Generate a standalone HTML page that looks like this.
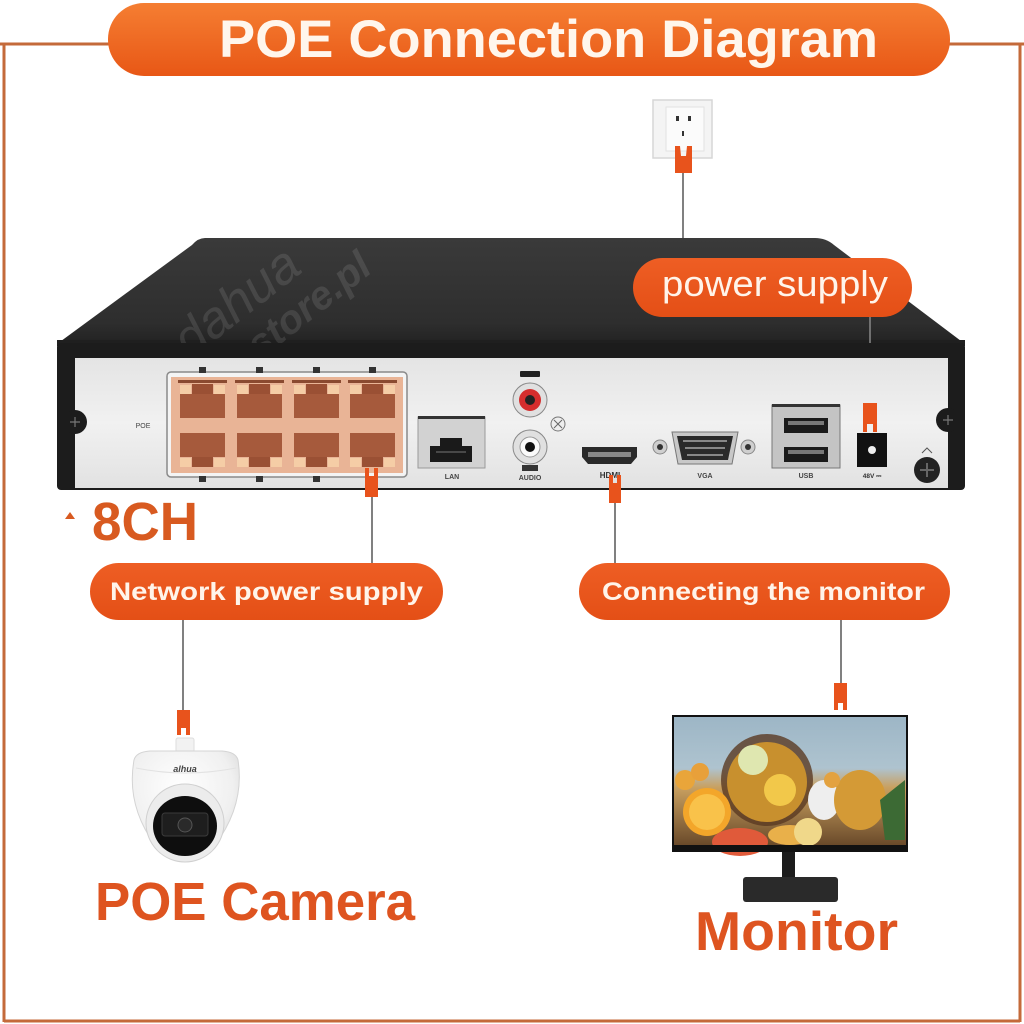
<!DOCTYPE html>
<html><head><meta charset="utf-8"><style>
html,body{margin:0;padding:0;background:#fff;width:1024px;height:1024px;overflow:hidden}
svg{display:block}
text{font-family:"Liberation Sans",sans-serif}
</style></head><body>
<svg width="1024" height="1024" viewBox="0 0 1024 1024" xmlns="http://www.w3.org/2000/svg">
<defs>
<linearGradient id="tg" x1="0" y1="0" x2="0" y2="1"><stop offset="0" stop-color="#f57e32"/><stop offset="1" stop-color="#e85716"/></linearGradient>
<linearGradient id="pg" x1="0" y1="0" x2="0" y2="1"><stop offset="0" stop-color="#ee5e24"/><stop offset="1" stop-color="#e44f16"/></linearGradient>
<linearGradient id="topg" x1="0" y1="0" x2="0" y2="1"><stop offset="0" stop-color="#3a3a3a"/><stop offset="0.8" stop-color="#2e2e2e"/><stop offset="1" stop-color="#222"/></linearGradient>
<linearGradient id="panelg" x1="0" y1="0" x2="0" y2="1"><stop offset="0" stop-color="#e4e4e4"/><stop offset="0.5" stop-color="#f1f1f1"/><stop offset="1" stop-color="#e2e2e2"/></linearGradient>
<linearGradient id="scr" x1="0" y1="0" x2="0" y2="1"><stop offset="0" stop-color="#9db6c6"/><stop offset="0.4" stop-color="#aec3cf"/><stop offset="0.55" stop-color="#c9a060"/><stop offset="1" stop-color="#6a4a2a"/></linearGradient>
<radialGradient id="dome" cx="0.45" cy="0.35" r="0.7"><stop offset="0" stop-color="#ffffff"/><stop offset="0.7" stop-color="#f0f0f0"/><stop offset="1" stop-color="#d8d8d8"/></radialGradient>
</defs>

<!-- frame lines -->
<g stroke="#c46a3a" stroke-width="3" fill="none">
<line x1="0" y1="44" x2="112" y2="44"/>
<line x1="946" y1="44" x2="1024" y2="44"/>
<line x1="4" y1="44" x2="4" y2="1022"/>
<line x1="1020" y1="44" x2="1020" y2="1022"/>
<line x1="4" y1="1021" x2="1020" y2="1021"/>
</g>

<!-- title -->
<rect x="108" y="3" width="842" height="73" rx="36" fill="url(#tg)"/>
<text x="219" y="57" font-size="53" font-weight="bold" fill="#fff6ec" textLength="659" lengthAdjust="spacingAndGlyphs">POE Connection Diagram</text>

<!-- outlet -->
<rect x="653" y="100" width="59" height="58" fill="#f4f4f4" stroke="#d6d6d6" stroke-width="1.5"/>
<rect x="666" y="107" width="38" height="44" fill="#fbfbfb" stroke="#e2e2e2"/>
<rect x="676" y="116" width="3" height="5" fill="#333"/>
<rect x="688" y="116" width="3" height="5" fill="#333"/>
<rect x="682" y="131" width="2" height="5" fill="#333"/>
<path d="M675 146 L680 146 L681 156 L686 156 L687 146 L692 146 L692 173 L675 173 Z" fill="#e8531c"/>
<line x1="683" y1="173" x2="683" y2="259" stroke="#555" stroke-width="1.5"/>

<!-- NVR top -->
<path d="M205 238 L815 238 Q826 238 834 245 L965 344 L57 344 L192 245 Q198 238 205 238 Z" fill="url(#topg)"/>
<rect x="57" y="340" width="908" height="6" fill="#1f1f1f"/>
<g fill="#ffffff" opacity="0.1" font-style="italic">
<text x="190" y="360" font-size="52" font-family="Liberation Serif,serif" transform="rotate(-38 190 360)">dahua</text>
<text x="260" y="360" font-size="40" font-weight="bold" transform="rotate(-38 260 360)">store.pl</text>
</g>

<!-- power supply pill -->
<rect x="633" y="258" width="279" height="59" rx="29.5" fill="url(#pg)"/>
<text x="662" y="296" font-size="36" fill="#fff4ea" textLength="226" lengthAdjust="spacingAndGlyphs">power supply</text>
<line x1="870" y1="317" x2="870" y2="404" stroke="#888" stroke-width="1.5"/>

<!-- NVR front frame -->
<rect x="57" y="343" width="908" height="147" rx="4" fill="#1c1c1c"/>
<rect x="75" y="358" width="873" height="130" fill="url(#panelg)"/>
<!-- side screws -->
<circle cx="75" cy="422" r="12" fill="#1c1c1c"/>
<path d="M70 422 H80 M75 417 V427" stroke="#777" stroke-width="1.2"/>
<circle cx="948" cy="420" r="12" fill="#1c1c1c"/>
<path d="M943 420 H953 M948 415 V425" stroke="#777" stroke-width="1.2"/>

<text x="143" y="428" font-size="7" fill="#444" text-anchor="middle">POE</text>

<!-- POE block -->
<rect x="167" y="372" width="240" height="105" rx="4" fill="#f4f4f4" stroke="#8a8a8a" stroke-width="1.5"/>
<rect x="171" y="377" width="232" height="96" fill="#e9b496"/>
<g>
<g id="c0">
<rect x="178" y="380" width="49" height="3" fill="#8a4a30"/>
<rect x="180" y="385" width="11" height="9" fill="#f5cda6"/>
<rect x="214" y="385" width="11" height="9" fill="#f5cda6"/>
<rect x="192" y="384" width="21" height="10" fill="#9a5034"/>
<rect x="180" y="394" width="45" height="24" fill="#a65a3c"/>
<rect x="180" y="433" width="45" height="24" fill="#a65a3c"/>
<rect x="192" y="457" width="21" height="10" fill="#9a5034"/>
<rect x="180" y="458" width="11" height="9" fill="#f5cda6"/>
<rect x="214" y="458" width="11" height="9" fill="#f5cda6"/>
</g>
<use href="#c0" x="57"/>
<use href="#c0" x="114"/>
<use href="#c0" x="170"/>
</g>
<g fill="#333">
<rect x="199" y="367" width="7" height="6"/><rect x="256" y="367" width="7" height="6"/><rect x="313" y="367" width="7" height="6"/><rect x="369" y="367" width="7" height="6"/>
<rect x="199" y="476" width="7" height="6"/><rect x="256" y="476" width="7" height="6"/><rect x="313" y="476" width="7" height="6"/>
</g>
<!-- port 8 connector -->
<path d="M365 468 L369 468 L369 476 L374 476 L374 468 L378 468 L378 497 L365 497 Z" fill="#e8531c"/>
<line x1="372" y1="497" x2="372" y2="564" stroke="#555" stroke-width="1.5"/>

<!-- LAN -->
<rect x="418" y="417" width="67" height="51" fill="#d2d2d2" stroke="#9a9a9a"/>
<rect x="418" y="416" width="67" height="3" fill="#333"/>
<path d="M430 446 H440 V438 H462 V446 H472 V462 H430 Z" fill="#1a1a1a"/>
<g stroke="#777" stroke-width="1"><line x1="436" y1="452" x2="466" y2="452"/></g>
<text x="452" y="479" font-size="7" fill="#444" text-anchor="middle" font-weight="bold">LAN</text>

<!-- audio -->
<rect x="520" y="371" width="20" height="6" rx="1" fill="#222"/>
<circle cx="530" cy="400" r="17" fill="#e0e0e0" stroke="#888"/>
<circle cx="530" cy="400" r="11" fill="#d42d2d"/>
<circle cx="530" cy="400" r="5" fill="#222"/>
<circle cx="530" cy="447" r="17" fill="#e0e0e0" stroke="#888"/>
<circle cx="530" cy="447" r="10" fill="#fafafa" stroke="#999"/>
<circle cx="530" cy="447" r="5" fill="#111"/>
<rect x="522" y="465" width="16" height="6" fill="#333"/>
<text x="530" y="480" font-size="7" fill="#444" text-anchor="middle" font-weight="bold">AUDIO</text>
<circle cx="558" cy="424" r="7" fill="#eee" stroke="#777"/>
<path d="M554 420 L562 428 M562 420 L554 428" stroke="#666"/>

<!-- HDMI -->
<path d="M582 447 H637 V457 L631 464 H588 L582 457 Z" fill="#2a2a2a"/>
<rect x="588" y="452" width="43" height="5" fill="#888"/>
<text x="610" y="478" font-size="8" fill="#333" text-anchor="middle" font-weight="bold">HDMI</text>
<path d="M609 475 L613 475 L613 483 L617 483 L617 475 L621 475 L621 503 L609 503 Z" fill="#e8531c"/>
<line x1="615" y1="503" x2="615" y2="564" stroke="#555" stroke-width="1.5"/>

<!-- VGA -->
<circle cx="660" cy="447" r="7" fill="#cfcfcf" stroke="#888"/><circle cx="660" cy="447" r="3" fill="#333"/>
<circle cx="748" cy="447" r="7" fill="#cfcfcf" stroke="#888"/><circle cx="748" cy="447" r="3" fill="#333"/>
<path d="M672 432 H738 L732 464 H678 Z" fill="#c8c8c8" stroke="#777"/>
<path d="M677 436 H733 L728 460 H682 Z" fill="#2a2a2a"/>
<g fill="#888"><rect x="683" y="440" width="44" height="2"/><rect x="685" y="447" width="40" height="2"/><rect x="687" y="454" width="36" height="2"/></g>
<text x="705" y="478" font-size="7" fill="#444" text-anchor="middle" font-weight="bold">VGA</text>

<!-- USB -->
<rect x="772" y="405" width="68" height="63" fill="#c4c4c4" stroke="#777"/>
<rect x="772" y="404" width="68" height="3" fill="#333"/>
<rect x="784" y="418" width="44" height="15" fill="#1a1a1a"/><rect x="788" y="421" width="36" height="4" fill="#777"/>
<rect x="784" y="447" width="44" height="15" fill="#1a1a1a"/><rect x="788" y="450" width="36" height="4" fill="#777"/>
<text x="806" y="478" font-size="7" fill="#444" text-anchor="middle" font-weight="bold">USB</text>

<!-- DC jack -->
<rect x="857" y="433" width="30" height="34" fill="#111"/>
<circle cx="872" cy="450" r="4" fill="#eee"/>
<text x="872" y="478" font-size="6.5" fill="#333" text-anchor="middle" font-weight="bold">48V ⎓</text>
<path d="M863 403 H877 V432 H873 V424 H867 V432 H863 Z" fill="#e8531c"/>

<!-- ground screw -->
<path d="M922 453 L927 448 L932 453" stroke="#555" fill="none"/>
<circle cx="927" cy="470" r="13" fill="#222"/>
<path d="M920 470 H934 M927 463 V477" stroke="#666" stroke-width="2"/>

<!-- 8CH -->
<path d="M65 519 L70 512 L75 519 Z" fill="#d85a20"/>
<text x="92" y="540" font-size="54" font-weight="bold" fill="#d85a20" textLength="106" lengthAdjust="spacingAndGlyphs">8CH</text>

<!-- Network power supply pill -->
<rect x="90" y="563" width="353" height="57" rx="28.5" fill="url(#pg)"/>
<text x="110" y="600" font-size="25" font-weight="bold" fill="#fff4ea" textLength="313" lengthAdjust="spacingAndGlyphs">Network power supply</text>
<line x1="183" y1="620" x2="183" y2="711" stroke="#555" stroke-width="1.5"/>
<path d="M177 710 H190 V735 H186 V728 H181 V735 H177 Z" fill="#e8531c"/>

<!-- Connecting the monitor pill -->
<rect x="579" y="563" width="371" height="57" rx="28.5" fill="url(#pg)"/>
<text x="602" y="600" font-size="25" font-weight="bold" fill="#fff4ea" textLength="323" lengthAdjust="spacingAndGlyphs">Connecting the monitor</text>
<line x1="841" y1="620" x2="841" y2="684" stroke="#555" stroke-width="1.5"/>
<path d="M834 683 H847 V710 H843 V703 H838 V710 H834 Z" fill="#e8531c"/>

<!-- camera -->
<rect x="176" y="738" width="18" height="14" rx="2" fill="#f2f2f2" stroke="#ddd"/>
<path d="M134 760 Q136 752 150 751 L222 751 Q236 752 238 760 Q245 805 215 845 Q185 868 155 845 Q126 805 134 760 Z" fill="url(#dome)" stroke="#d4d4d4"/>
<path d="M136 768 Q185 778 236 768" stroke="#e2e2e2" fill="none"/>
<text x="185" y="772" font-size="9" font-weight="bold" font-style="italic" fill="#444" text-anchor="middle">alhua</text>
<circle cx="185" cy="823" r="39" fill="#ececec" stroke="#d0d0d0"/>
<ellipse cx="185" cy="826" rx="32" ry="30" fill="#0e0e0e"/>
<rect x="162" y="813" width="46" height="23" rx="3" fill="#1e1e1e" stroke="#3a3a3a"/>
<circle cx="185" cy="825" r="7" fill="#2a2a2a" stroke="#555"/>

<text x="95" y="920" font-size="54" font-weight="bold" fill="#de5420" textLength="320" lengthAdjust="spacingAndGlyphs">POE Camera</text>

<!-- monitor -->
<rect x="672" y="715" width="236" height="137" fill="#111"/>
<rect x="674" y="717" width="232" height="128" fill="url(#scr)"/>
<g>
<circle cx="767" cy="780" r="46" fill="#5a3a22" opacity="0.8"/>
<circle cx="767" cy="782" r="40" fill="#c8902e"/>
<circle cx="753" cy="760" r="15" fill="#dfe7b0"/>
<circle cx="780" cy="790" r="16" fill="#f2c84a"/>
<ellipse cx="824" cy="800" rx="16" ry="20" fill="#eeeeee"/>
<circle cx="707" cy="812" r="24" fill="#f3a62a"/>
<circle cx="707" cy="812" r="18" fill="#f9c24a"/>
<ellipse cx="740" cy="842" rx="28" ry="14" fill="#e05a3a"/>
<ellipse cx="790" cy="835" rx="22" ry="10" fill="#e9b04a"/>
<ellipse cx="860" cy="800" rx="26" ry="30" fill="#d49a36"/>
<circle cx="685" cy="780" r="10" fill="#e9a53a"/>
<circle cx="700" cy="772" r="9" fill="#e8a03a"/>
<circle cx="832" cy="780" r="8" fill="#e3a240"/>
<path d="M880 800 L905 780 L905 840 L885 840 Z" fill="#3c6a34"/>
<circle cx="808" cy="832" r="14" fill="#f0d88a"/>
</g>
<rect x="672" y="845" width="236" height="7" fill="#111"/>
<rect x="782" y="852" width="13" height="28" fill="#1c1c1c"/>
<rect x="743" y="877" width="95" height="25" rx="3" fill="#2a2a2a"/>

<text x="695" y="950" font-size="55" font-weight="bold" fill="#de5420" textLength="203" lengthAdjust="spacingAndGlyphs">Monitor</text>
</svg>
</body></html>
